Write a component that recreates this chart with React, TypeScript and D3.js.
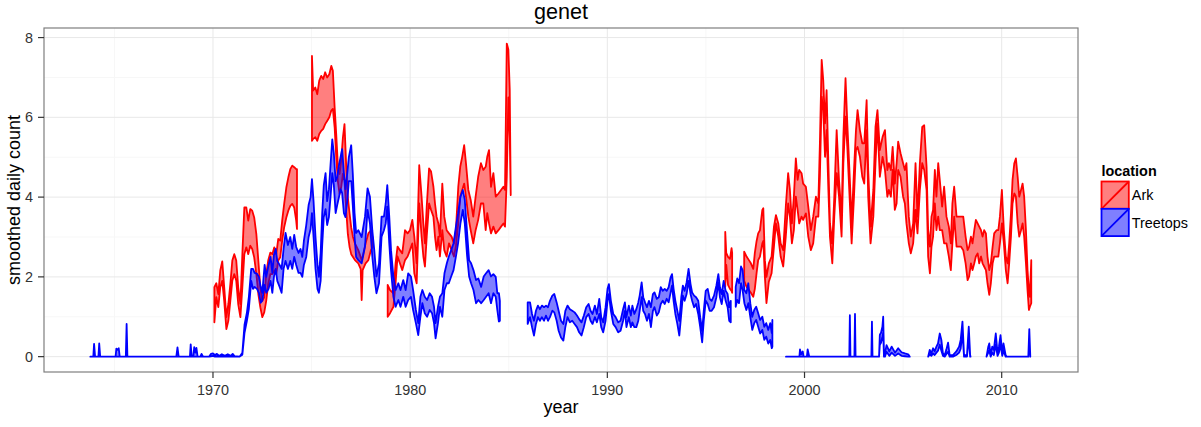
import React from "react";
import * as d3 from "d3";

type Row = [number, number, number]; // year, lower, upper

const title = "genet";
const xLabel = "year";
const yLabel = "smoothed daily count";
const legendTitle = "location";
const locations = ["Ark", "Treetops"];
const colors = ["#FF0000", "#0000FF"];
const xTicks = [1970, 1980, 1990, 2000, 2010];
const xMinorTicks = [1965, 1975, 1985, 1995, 2005];
const yTicks = [0, 2, 4, 6, 8];
const yMinorTicks = [1, 3, 5, 7];

// ---- Ark ----
const ark1: Row[] = [
  [1970.07, 0.86, 1.74], [1970.17, 1.49, 1.84], [1970.27, 1.24, 1.57], [1970.37, 1.74, 2.16], [1970.47, 1.9, 2.39],
  [1970.57, 1.4, 1.74], [1970.68, 0.69, 0.99], [1970.78, 0.9, 1.32], [1970.88, 1.4, 1.82], [1970.98, 1.9, 2.41],
  [1971.08, 2.07, 2.57], [1971.18, 1.9, 2.41], [1971.28, 1.32, 1.74], [1971.39, 0.99, 1.32], [1971.49, 1.74, 2.57],
  [1971.59, 2.57, 3.74], [1971.69, 2.74, 3.74], [1971.79, 2.57, 3.41], [1971.89, 2.78, 3.7], [1971.99, 2.7, 3.66],
  [1972.09, 2.49, 3.49], [1972.2, 2.07, 3.07], [1972.3, 1.57, 2.41], [1972.4, 1.24, 1.74], [1972.5, 0.99, 1.4],
  [1972.6, 1.11, 1.49], [1972.7, 1.4, 2.07], [1972.8, 1.82, 2.41], [1972.91, 2.07, 2.61], [1973.01, 2.07, 2.57],
  [1973.11, 2.16, 2.74], [1973.21, 2.07, 2.57], [1973.31, 2.41, 2.95], [1973.41, 2.49, 2.91], [1973.51, 2.91, 3.41],
  [1973.61, 3.24, 3.83], [1973.72, 3.49, 4.24], [1973.82, 3.66, 4.49], [1973.92, 3.78, 4.7], [1974.02, 3.83, 4.79],
  [1974.12, 3.74, 4.75], [1974.22, 3.41, 4.7], [1974.26, 3.2, 4.7],
];
const ark2: Row[] = [
  [1975.02, 5.41, 7.54], [1975.08, 5.46, 6.67], [1975.19, 5.5, 6.75], [1975.29, 5.41, 6.58], [1975.39, 5.58, 6.92],
  [1975.49, 5.66, 7.04], [1975.59, 5.71, 6.96], [1975.69, 5.83, 7.13], [1975.79, 5.91, 7.0], [1975.9, 6.0, 7.08],
  [1976.0, 6.17, 7.29], [1976.08, 6.21, 7.17], [1976.17, 5.75, 6.25], [1976.25, 5.0, 5.58], [1976.33, 4.41, 4.83],
  [1976.42, 4.08, 4.58], [1976.5, 4.24, 4.91], [1976.59, 4.58, 5.5], [1976.67, 4.41, 5.83], [1976.76, 3.66, 4.75],
  [1976.84, 3.07, 3.99], [1976.93, 2.74, 3.58], [1977.01, 2.57, 3.24], [1977.1, 2.5, 3.0], [1977.2, 2.42, 2.84],
  [1977.37, 2.34, 2.67], [1977.49, 2.2, 2.5], [1977.54, 1.42, 2.42], [1977.59, 2.17, 2.51], [1977.74, 2.34, 2.84],
  [1977.88, 2.42, 3.09], [1978.01, 2.67, 3.17], [1978.11, 2.76, 2.93],
];
const ark3: Row[] = [
  [1978.86, 1.0, 1.8], [1978.98, 1.09, 1.67], [1979.15, 1.25, 1.59], [1979.26, 1.84, 2.34], [1979.36, 2.51, 2.76],
  [1979.48, 2.34, 2.67], [1979.6, 2.17, 2.59], [1979.74, 2.42, 3.17], [1979.87, 2.51, 3.09], [1979.99, 2.67, 3.17],
  [1980.11, 2.84, 3.43], [1980.21, 2.09, 3.01], [1980.33, 1.84, 2.34], [1980.46, 3.84, 4.8], [1980.58, 3.01, 4.01],
  [1980.67, 2.51, 3.34], [1980.75, 2.26, 2.84], [1980.84, 3.01, 3.76], [1980.96, 3.84, 4.72], [1981.06, 3.68, 4.64],
  [1981.18, 3.51, 4.26], [1981.26, 3.01, 3.84], [1981.34, 2.67, 3.51], [1981.43, 3.01, 3.34], [1981.51, 2.51, 3.01],
  [1981.63, 3.17, 4.34], [1981.73, 2.67, 3.51], [1981.85, 2.51, 3.17], [1981.97, 2.84, 3.09], [1982.1, 2.67, 3.01],
  [1982.22, 2.51, 2.84], [1982.32, 2.76, 3.17], [1982.44, 3.34, 4.26], [1982.54, 4.01, 4.76], [1982.64, 4.18, 5.01],
  [1982.74, 4.34, 5.3], [1982.83, 4.01, 4.85], [1982.95, 3.51, 4.18], [1983.07, 3.17, 3.93], [1983.2, 2.84, 3.51],
  [1983.32, 3.17, 4.01], [1983.45, 3.43, 4.51], [1983.59, 3.84, 4.85], [1983.71, 3.84, 4.68], [1983.83, 3.17, 4.76],
  [1983.91, 3.6, 5.01], [1984.0, 3.34, 5.18], [1984.1, 3.09, 4.26], [1984.22, 3.26, 4.6], [1984.34, 3.09, 4.01],
  [1984.48, 3.17, 4.09], [1984.61, 3.26, 4.18], [1984.73, 3.34, 4.26], [1984.81, 3.26, 4.18], [1984.9, 4.5, 7.85],
  [1984.98, 6.5, 7.7], [1985.05, 5.5, 6.7], [1985.1, 4.05, 4.1],
];
const ark4: Row[] = [
  [1995.98, 1.75, 3.13], [1996.03, 2.3, 2.6], [1996.12, 1.8, 2.5], [1996.22, 1.7, 2.45], [1996.3, 1.65, 2.72],
  [1996.33, 1.6, 2.6],
];
const ark5: Row[] = [
  [1996.94, 1.9, 2.63], [1997.06, 1.75, 2.51], [1997.18, 1.67, 2.42], [1997.28, 1.6, 2.34], [1997.4, 1.5, 2.2],
  [1997.48, 1.7, 2.6], [1997.57, 2.1, 2.9], [1997.65, 2.42, 3.09], [1997.74, 2.51, 3.17], [1997.86, 2.84, 3.68],
  [1997.91, 2.9, 3.72], [1997.99, 2.0, 2.42], [1998.07, 1.34, 2.0], [1998.19, 1.88, 2.34], [1998.33, 2.09, 2.51],
  [1998.45, 2.76, 3.26], [1998.55, 3.34, 3.55], [1998.67, 3.01, 3.34], [1998.79, 2.51, 2.84], [1998.92, 2.26, 2.67],
  [1999.05, 3.01, 3.76], [1999.17, 3.84, 4.6], [1999.26, 3.51, 4.18], [1999.36, 2.84, 3.34], [1999.46, 3.17, 4.01],
  [1999.56, 4.01, 4.97], [1999.65, 3.68, 4.43], [1999.73, 3.34, 4.68], [1999.85, 3.51, 4.6], [1999.93, 3.43, 4.34],
  [2000.07, 3.59, 4.26], [2000.19, 3.01, 3.76], [2000.32, 2.67, 3.17], [2000.44, 2.84, 3.51], [2000.58, 3.51, 4.01],
  [2000.7, 3.51, 3.84], [2000.78, 4.51, 5.35], [2000.87, 6.52, 7.44], [2000.95, 6.18, 6.93], [2001.04, 5.01, 5.85],
  [2001.12, 5.68, 6.68], [2001.21, 4.18, 4.85], [2001.29, 3.01, 3.34], [2001.41, 2.34, 2.84], [2001.51, 3.51, 4.01],
  [2001.63, 4.6, 5.68], [2001.75, 4.01, 4.43], [2001.88, 3.01, 3.51], [2001.97, 4.85, 5.51], [2002.08, 6.02, 6.98],
  [2002.17, 5.26, 5.85], [2002.3, 3.84, 4.43], [2002.39, 2.84, 3.34], [2002.51, 4.01, 4.68], [2002.61, 5.18, 5.68],
  [2002.69, 5.26, 6.18], [2002.81, 5.01, 5.68], [2002.93, 4.51, 5.35], [2003.03, 4.34, 5.35], [2003.15, 5.68, 6.43],
  [2003.23, 4.01, 4.68], [2003.35, 2.84, 3.26], [2003.49, 3.51, 4.18], [2003.6, 4.85, 5.76], [2003.7, 5.85, 6.18],
  [2003.82, 4.51, 5.18], [2003.96, 5.01, 5.51], [2004.08, 4.68, 5.68], [2004.2, 4.01, 4.68], [2004.28, 4.18, 4.85],
  [2004.38, 4.01, 4.68], [2004.47, 4.68, 5.26], [2004.58, 3.68, 4.34], [2004.67, 3.84, 4.85], [2004.75, 4.68, 5.39],
  [2004.87, 4.51, 5.1], [2005.0, 4.01, 4.85], [2005.09, 3.84, 4.68], [2005.17, 3.34, 4.85], [2005.29, 2.84, 3.51],
  [2005.39, 2.59, 3.01], [2005.51, 2.84, 3.34], [2005.63, 3.68, 4.85], [2005.73, 3.09, 3.51], [2005.85, 4.18, 4.85],
  [2005.97, 4.85, 5.76], [2006.07, 4.68, 5.8], [2006.19, 4.18, 4.76], [2006.27, 2.51, 3.17], [2006.36, 2.09, 2.76],
  [2006.44, 2.76, 3.51], [2006.52, 3.01, 3.68], [2006.61, 3.84, 4.68], [2006.69, 3.17, 4.01], [2006.78, 3.51, 4.85],
  [2006.86, 3.17, 4.43], [2006.98, 3.17, 3.76], [2007.08, 2.84, 4.26], [2007.2, 2.84, 3.51], [2007.32, 2.51, 3.26],
  [2007.42, 2.17, 2.84], [2007.5, 2.84, 3.84], [2007.59, 3.51, 4.26], [2007.71, 2.76, 3.51], [2007.82, 2.76, 3.51],
  [2007.93, 2.76, 3.51], [2008.05, 2.67, 3.51], [2008.17, 2.34, 3.01], [2008.27, 1.92, 2.67], [2008.35, 2.01, 2.76],
  [2008.44, 2.34, 3.01], [2008.52, 2.17, 2.84], [2008.61, 2.34, 3.17], [2008.69, 2.51, 3.43], [2008.78, 2.59, 3.34],
  [2008.86, 2.34, 3.26], [2008.95, 2.51, 3.17], [2009.03, 2.34, 3.01], [2009.11, 2.26, 3.17], [2009.2, 2.17, 3.09],
  [2009.28, 1.84, 2.51], [2009.37, 1.55, 2.17], [2009.45, 1.84, 2.34], [2009.54, 2.34, 2.76], [2009.62, 2.51, 3.09],
  [2009.74, 2.51, 3.17], [2009.83, 2.51, 3.17], [2009.91, 2.84, 3.51], [2010.01, 3.34, 4.18], [2010.11, 2.84, 3.17],
  [2010.21, 2.17, 2.51], [2010.3, 1.84, 2.34], [2010.38, 2.34, 2.84], [2010.47, 3.01, 3.59], [2010.55, 3.84, 4.43],
  [2010.64, 4.09, 4.85], [2010.72, 4.01, 4.97], [2010.81, 3.34, 4.51], [2010.89, 3.01, 4.01], [2010.98, 3.17, 4.18],
  [2011.06, 3.34, 4.34], [2011.14, 3.01, 4.01], [2011.23, 2.34, 3.17], [2011.31, 1.67, 2.17], [2011.38, 1.17, 1.67],
  [2011.43, 1.25, 1.5], [2011.5, 1.34, 2.42],
];

// ---- Treetops ----
const tree1: Row[] = [
  [1963.78, 0, 0], [1963.93, 0, 0], [1963.97, 0, 0.32], [1964.02, 0, 0], [1964.19, 0, 0], [1964.23, 0, 0.33],
  [1964.28, 0, 0], [1965.06, 0, 0], [1965.1, 0, 0.2], [1965.15, 0, 0.17], [1965.22, 0, 0.21], [1965.27, 0, 0],
  [1965.58, 0, 0], [1965.62, 0, 0.82], [1965.66, 0, 0], [1968.14, 0, 0], [1968.2, 0, 0.23], [1968.26, 0, 0],
  [1968.83, 0, 0], [1968.87, 0, 0.31], [1968.92, 0, 0], [1969.0, 0, 0], [1969.05, 0, 0.24], [1969.11, 0, 0.1],
  [1969.16, 0, 0.22], [1969.22, 0, 0], [1969.36, 0, 0], [1969.42, 0, 0.07], [1969.5, 0, 0], [1969.8, 0, 0],
  [1969.9, 0.01, 0.07], [1970.0, 0.02, 0.08], [1970.1, 0, 0.04], [1970.2, 0.01, 0.07], [1970.32, 0, 0.02],
  [1970.45, 0.01, 0.06], [1970.6, 0, 0.02], [1970.75, 0.01, 0.06], [1970.9, 0, 0.02], [1971.0, 0.01, 0.07],
  [1971.1, 0, 0.01], [1971.35, 0, 0], [1971.49, 0.05, 0.1], [1971.6, 0.6, 0.8], [1971.72, 0.9, 1.1],
  [1971.82, 1.2, 1.5], [1971.94, 1.9, 2.2], [1972.03, 1.7, 2.2], [1972.11, 1.75, 2.1], [1972.23, 1.7, 2.08],
  [1972.33, 1.6, 2.0], [1972.42, 1.35, 1.75], [1972.5, 1.4, 1.6], [1972.62, 1.8, 2.3], [1972.7, 1.6, 2.0],
  [1972.82, 1.7, 2.3], [1972.92, 1.9, 2.5], [1973.01, 1.6, 2.1], [1973.09, 2.0, 2.55], [1973.18, 2.2, 2.7],
  [1973.26, 1.9, 2.4], [1973.38, 1.75, 2.3], [1973.48, 1.6, 2.2], [1973.58, 2.2, 2.7], [1973.68, 2.4, 3.1],
  [1973.8, 2.2, 2.8], [1973.92, 2.4, 3.0], [1974.02, 2.2, 2.7], [1974.12, 2.5, 3.05], [1974.22, 2.3, 2.75],
  [1974.34, 2.1, 2.6], [1974.44, 2.1, 2.7], [1974.53, 2.0, 2.5], [1974.61, 2.3, 2.9], [1974.73, 2.5, 3.3],
  [1974.85, 3.0, 3.8], [1974.95, 3.2, 4.0], [1975.02, 3.6, 4.45], [1975.1, 3.0, 3.9], [1975.2, 2.2, 3.0],
  [1975.3, 1.7, 2.3], [1975.37, 1.6, 2.0], [1975.46, 1.9, 2.6], [1975.54, 2.8, 3.6], [1975.62, 3.5, 4.3],
  [1975.71, 3.7, 4.6], [1975.79, 3.3, 3.9], [1975.88, 3.5, 4.2], [1975.96, 4.0, 4.8], [1976.05, 4.6, 5.45],
  [1976.13, 4.3, 5.1], [1976.22, 3.6, 4.4], [1976.3, 3.8, 4.5], [1976.39, 4.0, 4.8], [1976.47, 4.2, 5.0],
  [1976.55, 4.1, 5.2], [1976.64, 3.6, 4.6], [1976.72, 3.5, 4.2], [1976.81, 3.9, 4.6], [1976.89, 4.4, 5.0],
  [1977.01, 4.4, 5.3], [1977.09, 3.8, 4.6], [1977.18, 3.0, 3.6], [1977.26, 2.5, 3.1], [1977.37, 2.42, 3.17],
  [1977.54, 2.34, 3.0], [1977.71, 2.76, 3.51], [1977.84, 3.68, 4.22], [1977.96, 3.34, 4.01], [1978.08, 2.51, 3.17],
  [1978.18, 2.01, 2.67], [1978.29, 1.59, 2.01], [1978.42, 1.84, 2.34], [1978.55, 3.01, 3.51], [1978.67, 3.17, 3.51],
  [1978.76, 3.34, 3.84], [1978.84, 3.76, 4.3], [1978.94, 2.84, 3.51], [1979.03, 2.17, 2.67], [1979.15, 1.5, 2.01],
  [1979.26, 1.25, 1.67], [1979.4, 1.42, 1.84], [1979.51, 1.25, 1.67], [1979.65, 1.5, 1.92], [1979.77, 1.25, 1.67],
  [1979.9, 1.42, 2.09], [1980.04, 1.5, 2.01], [1980.15, 1.17, 1.67], [1980.29, 0.84, 1.17], [1980.41, 0.54, 0.84],
  [1980.52, 1.0, 1.5], [1980.62, 1.34, 1.67], [1980.74, 1.09, 1.5], [1980.86, 1.0, 1.42], [1980.99, 1.17, 1.59],
  [1981.11, 1.09, 1.5], [1981.21, 0.84, 1.25], [1981.29, 0.46, 0.84], [1981.41, 0.84, 1.25], [1981.51, 1.25, 1.5],
  [1981.63, 1.0, 1.59], [1981.74, 1.67, 2.09], [1981.86, 1.84, 2.34], [1981.96, 1.84, 2.51], [1982.08, 2.01, 2.67],
  [1982.2, 2.17, 2.84], [1982.32, 2.51, 3.26], [1982.43, 2.84, 3.59], [1982.55, 3.34, 4.01], [1982.67, 3.68, 4.18],
  [1982.77, 3.34, 3.93], [1982.89, 2.51, 3.09], [1982.99, 2.01, 2.42], [1983.09, 1.84, 2.34], [1983.21, 1.67, 2.17],
  [1983.34, 1.34, 1.92], [1983.46, 1.42, 1.96], [1983.6, 1.34, 1.75], [1983.73, 1.42, 2.01], [1983.85, 1.5, 2.09],
  [1983.98, 1.59, 2.17], [1984.1, 1.34, 2.01], [1984.22, 1.59, 2.07], [1984.34, 1.5, 2.0], [1984.42, 1.17, 1.59],
  [1984.5, 0.88, 1.59], [1984.55, 0.9, 1.4],
];
const tree2: Row[] = [
  [1985.96, 0.82, 1.36], [1986.08, 0.99, 1.36], [1986.18, 0.74, 1.07], [1986.28, 0.53, 0.9], [1986.38, 0.82, 1.15],
  [1986.48, 0.99, 1.28], [1986.58, 0.9, 1.19], [1986.68, 0.99, 1.28], [1986.79, 0.9, 1.24], [1986.89, 1.03, 1.28],
  [1986.99, 0.9, 1.24], [1987.09, 0.99, 1.4], [1987.21, 1.15, 1.53], [1987.31, 1.11, 1.57], [1987.43, 0.9, 1.36],
  [1987.53, 0.65, 1.15], [1987.65, 0.48, 0.9], [1987.77, 0.4, 0.82], [1987.87, 0.74, 1.15], [1987.98, 0.99, 1.28],
  [1988.1, 0.86, 1.19], [1988.22, 0.9, 1.15], [1988.34, 0.82, 1.11], [1988.46, 0.74, 1.03], [1988.57, 0.61, 0.94],
  [1988.69, 0.53, 0.86], [1988.81, 0.74, 1.03], [1988.93, 0.99, 1.24], [1989.05, 1.07, 1.32], [1989.15, 0.9, 1.15],
  [1989.25, 0.82, 1.07], [1989.37, 0.99, 1.28], [1989.47, 0.86, 1.07], [1989.59, 1.07, 1.45], [1989.69, 0.74, 0.99],
  [1989.79, 0.61, 0.86], [1989.91, 0.9, 1.24], [1990.01, 1.4, 1.7], [1990.08, 1.57, 1.82], [1990.18, 1.15, 1.4],
  [1990.3, 0.82, 1.07], [1990.42, 0.74, 0.99], [1990.55, 0.61, 0.86], [1990.67, 0.65, 0.9], [1990.8, 0.9, 1.19],
  [1990.89, 1.15, 1.36], [1990.97, 0.74, 0.99], [1991.09, 0.99, 1.28], [1991.19, 0.74, 1.03], [1991.27, 0.86, 1.28],
  [1991.37, 0.74, 1.07], [1991.47, 0.74, 1.19], [1991.57, 0.9, 1.36], [1991.64, 1.15, 1.53], [1991.74, 1.49, 1.86],
  [1991.82, 1.15, 1.49], [1991.91, 1.07, 1.36], [1992.01, 0.9, 1.24], [1992.11, 1.07, 1.4], [1992.21, 0.74, 1.24],
  [1992.31, 1.15, 1.57], [1992.39, 1.24, 1.61], [1992.51, 1.03, 1.45], [1992.61, 1.11, 1.49], [1992.71, 1.32, 1.74],
  [1992.81, 1.4, 1.65], [1992.91, 1.32, 1.7], [1993.01, 1.45, 1.65], [1993.11, 1.36, 1.74], [1993.21, 1.61, 1.99],
  [1993.28, 1.78, 2.07], [1993.36, 1.4, 1.7], [1993.45, 1.07, 1.4], [1993.55, 0.82, 1.15], [1993.65, 0.53, 0.9],
  [1993.75, 1.07, 1.49], [1993.83, 1.53, 1.78], [1993.92, 1.4, 1.65], [1994.02, 1.57, 1.86], [1994.12, 1.9, 2.2],
  [1994.22, 1.57, 1.82], [1994.3, 1.4, 1.61], [1994.4, 1.24, 1.53], [1994.5, 1.32, 1.49], [1994.61, 1.07, 1.4],
  [1994.71, 0.74, 0.99], [1994.81, 0.36, 0.65], [1994.89, 0.9, 1.15], [1994.99, 1.4, 1.65], [1995.09, 1.32, 1.7],
  [1995.19, 1.15, 1.45], [1995.29, 1.15, 1.4], [1995.41, 1.24, 1.53], [1995.53, 1.49, 1.78], [1995.63, 1.86, 2.07],
  [1995.71, 1.49, 1.74], [1995.8, 1.32, 1.57], [1995.9, 1.65, 1.9], [1996.0, 1.4, 1.65], [1996.1, 1.24, 1.57],
  [1996.18, 0.9, 1.24], [1996.26, 0.86, 1.4],
];
const tree3: Row[] = [
  [1996.51, 1.25, 1.75], [1996.59, 1.42, 1.96], [1996.68, 1.34, 1.84], [1996.78, 1.84, 2.26], [1996.86, 1.67, 2.17],
  [1996.95, 1.34, 1.67], [1997.05, 1.17, 1.59], [1997.15, 1.34, 1.84], [1997.25, 1.0, 1.34], [1997.35, 0.67, 1.0],
  [1997.45, 0.84, 1.17], [1997.55, 0.92, 1.25], [1997.65, 0.75, 1.09], [1997.75, 0.58, 0.92], [1997.86, 0.67, 1.0],
  [1997.96, 0.42, 0.75], [1998.06, 0.5, 0.84], [1998.16, 0.33, 0.67], [1998.26, 0.42, 0.84], [1998.34, 0.21, 0.59],
  [1998.37, 0.25, 0.92],
];
const tree4: Row[] = [
  [1999.06, 0, 0], [1999.74, 0, 0], [1999.77, 0, 0.18], [1999.83, 0, 0.06], [1999.91, 0, 0.13], [1999.95, 0, 0],
  [2000.12, 0, 0], [2000.16, 0, 0.18], [2000.24, 0, 0], [2002.27, 0, 0], [2002.3, 1.04, 1.04], [2002.33, 0, 0],
  [2002.53, 0, 0], [2002.56, 1.07, 1.07], [2002.59, 0, 0], [2003.39, 0, 0], [2003.42, 0.88, 0.88], [2003.45, 0, 0],
  [2003.78, 0, 0], [2003.82, 0.3, 0.55], [2003.88, 0.35, 0.6], [2003.95, 0.5, 0.75], [2003.99, 0.6, 1.0],
  [2004.03, 0, 0.1], [2004.08, 0, 0.08], [2004.16, 0.12, 0.29], [2004.3, 0.02, 0.13], [2004.42, 0.1, 0.25],
  [2004.59, 0.02, 0.1], [2004.75, 0.08, 0.21], [2004.92, 0.02, 0.11], [2005.09, 0.01, 0.08], [2005.26, 0, 0.06],
  [2005.34, 0, 0],
];
const tree5: Row[] = [
  [2006.27, 0, 0], [2006.35, 0.06, 0.17], [2006.43, 0.02, 0.08], [2006.52, 0.08, 0.21], [2006.6, 0.04, 0.13],
  [2006.69, 0.1, 0.25], [2006.77, 0.15, 0.33], [2006.86, 0.3, 0.58], [2006.94, 0.15, 0.42], [2007.02, 0.02, 0.08],
  [2007.11, 0, 0.04], [2007.19, 0.06, 0.17], [2007.28, 0.12, 0.35], [2007.36, 0, 0.04], [2007.53, 0, 0.04],
  [2007.7, 0.04, 0.13], [2007.84, 0.1, 0.25], [2007.92, 0.2, 0.42], [2008.01, 0.6, 0.88], [2008.09, 0, 0.04],
  [2008.24, 0, 0.04], [2008.33, 0.5, 0.75], [2008.4, 0, 0.04], [2008.42, 0, 0],
];
const tree6: Row[] = [
  [2009.23, 0, 0], [2009.32, 0.1, 0.25], [2009.37, 0.15, 0.33], [2009.44, 0, 0.04], [2009.52, 0.1, 0.25],
  [2009.6, 0.04, 0.17], [2009.7, 0.3, 0.58], [2009.79, 0.02, 0.08], [2009.86, 0.1, 0.25], [2009.94, 0.3, 0.54],
  [2010.03, 0.02, 0.08], [2010.09, 0.15, 0.33], [2010.2, 0, 0.04], [2010.25, 0, 0], [2011.35, 0, 0],
  [2011.4, 0.69, 0.69], [2011.45, 0, 0],
];

const arkSegments = [ark1, ark2, ark3, ark4, ark5];
const treetopsSegments = [tree1, tree2, tree3, tree4, tree5, tree6];
const seriesSegments = [arkSegments, treetopsSegments];

const W = 1201;
const H = 427;
const P = { left: 44, right: 1078, top: 28, bottom: 372 };
const FONT = "'Liberation Sans', Arial, Helvetica, sans-serif";

export default function App() {
  const x = d3.scaleLinear().domain([1961.43, 2013.87]).range([P.left, P.right]);
  const y = d3.scaleLinear().domain([-0.385, 8.24]).range([P.bottom, P.top]);
  const area = d3
    .area<Row>()
    .x((d) => x(d[0]))
    .y0((d) => y(d[1]))
    .y1((d) => y(d[2]));

  const cx = (P.left + P.right) / 2;
  const cy = (P.top + P.bottom) / 2;
  const keyX = 1101.5;
  const keyY = 181.5;
  const keyS = 27.3;

  return (
    <svg
      width={W}
      height={H}
      style={{ position: "absolute", left: 0, top: 0, background: "#fff" }}
      fontFamily={FONT}
    >
      <rect x={0} y={0} width={W} height={H} fill="#fff" />
      {/* grid */}
      <g>
        {xMinorTicks.map((t) => (
          <line key={"xm" + t} x1={x(t)} x2={x(t)} y1={P.top} y2={P.bottom} stroke="#F7F7F7" strokeWidth={1} />
        ))}
        {yMinorTicks.map((t) => (
          <line key={"ym" + t} x1={P.left} x2={P.right} y1={y(t)} y2={y(t)} stroke="#F7F7F7" strokeWidth={1} />
        ))}
        {xTicks.map((t) => (
          <line key={"xg" + t} x1={x(t)} x2={x(t)} y1={P.top} y2={P.bottom} stroke="#E8E8E8" strokeWidth={1} />
        ))}
        {yTicks.map((t) => (
          <line key={"yg" + t} x1={P.left} x2={P.right} y1={y(t)} y2={y(t)} stroke="#E8E8E8" strokeWidth={1} />
        ))}
      </g>
      {/* data */}
      {seriesSegments.map((segs, i) => (
        <g key={"s" + i}>
          {segs.map((seg, j) => (
            <path
              key={j}
              d={area(seg) || ""}
              fill={colors[i]}
              fillOpacity={0.5}
              stroke={colors[i]}
              strokeWidth={1.8}
              strokeLinejoin="round"
            />
          ))}
        </g>
      ))}
      {/* panel border */}
      <rect
        x={P.left}
        y={P.top}
        width={P.right - P.left}
        height={P.bottom - P.top}
        fill="none"
        stroke="#7F7F7F"
        strokeWidth={1.2}
      />
      {/* x axis */}
      {xTicks.map((t) => (
        <g key={"xt" + t}>
          <line x1={x(t)} x2={x(t)} y1={P.bottom} y2={P.bottom + 6} stroke="#333" strokeWidth={1.2} />
          <text x={x(t)} y={P.bottom + 23} textAnchor="middle" fontSize={14.4} fill="#333">
            {t}
          </text>
        </g>
      ))}
      {/* y axis */}
      {yTicks.map((t) => (
        <g key={"yt" + t}>
          <line x1={P.left - 6} x2={P.left} y1={y(t)} y2={y(t)} stroke="#333" strokeWidth={1.2} />
          <text x={P.left - 11} y={y(t) + 5} textAnchor="end" fontSize={14.4} fill="#333">
            {t}
          </text>
        </g>
      ))}
      {/* titles */}
      <text x={cx} y={19} textAnchor="middle" fontSize={21.6} fill="#000">
        {title}
      </text>
      <text x={cx} y={413} textAnchor="middle" fontSize={18} fill="#000">
        {xLabel}
      </text>
      <text
        transform={`translate(20,${cy}) rotate(-90)`}
        textAnchor="middle"
        fontSize={18}
        fill="#000"
      >
        {yLabel}
      </text>
      {/* legend */}
      <text x={keyX} y={176} fontSize={14.4} fontWeight="bold" fill="#000">
        {legendTitle}
      </text>
      {locations.map((name, i) => {
        const ky = keyY + i * keyS;
        return (
          <g key={name}>
            <rect x={keyX} y={ky} width={keyS} height={keyS} fill="#fff" />
            <rect
              x={keyX}
              y={ky}
              width={keyS}
              height={keyS}
              fill={colors[i]}
              fillOpacity={0.5}
              stroke={colors[i]}
              strokeWidth={1.8}
            />
            <line x1={keyX} y1={ky + keyS} x2={keyX + keyS} y2={ky} stroke={colors[i]} strokeWidth={1.8} />
            <text x={keyX + keyS + 3} y={ky + keyS / 2 + 5.2} fontSize={14.4} fill="#000">
              {name}
            </text>
          </g>
        );
      })}
    </svg>
  );
}
